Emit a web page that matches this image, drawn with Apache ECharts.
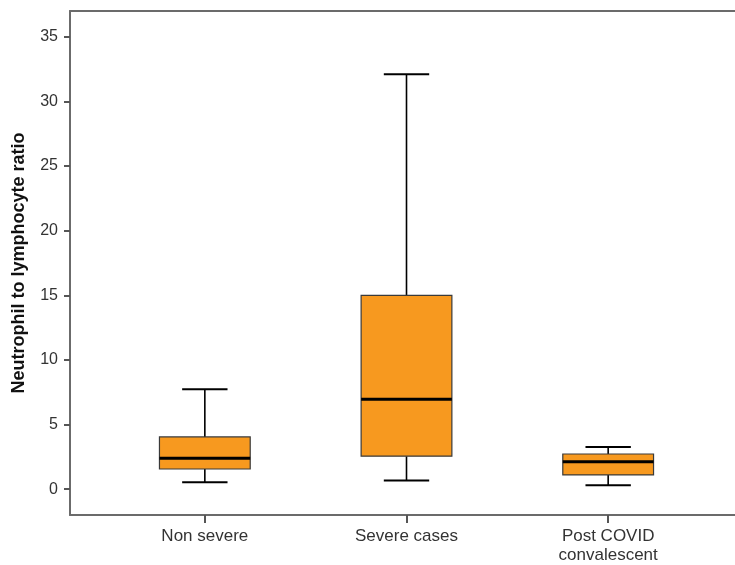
<!DOCTYPE html>
<html>
<head>
<meta charset="utf-8">
<script src="https://cdn.jsdelivr.net/npm/echarts@6/dist/echarts.min.js"></script>
<style>html,body{margin:0;padding:0;background:#fff}#c{width:735px;height:565px}</style>
</head>
<body>
<div id="c"></div>
<script>
const categories = ['Non severe', 'Severe cases', 'Post COVID\nconvalescent'];
const lowWhisker = [0.53, 0.66, 0.30];
const q1 = [1.56, 2.55, 1.10];
const median = [2.39, 6.96, 2.13];
const q3 = [4.04, 15.0, 2.72];
const highWhisker = [7.73, 32.1, 3.27];
const yTicks = [0, 5, 10, 15, 20, 25, 30, 35];
const yName = 'Neutrophil to lymphocyte ratio';

const data = categories.map((c, i) => [i, lowWhisker[i], q1[i], median[i], q3[i], highWhisker[i]]);

const chart = echarts.init(document.getElementById('c'), null, {renderer: 'canvas'});
const font = 'Arial, "Liberation Sans", sans-serif';
const frameLine = {show: true, onZero: false, lineStyle: {color: '#6b6b6b', width: 2}};

chart.setOption({
  animation: false,
  backgroundColor: '#fff',
  grid: [
    {left: 104, right: 26, top: 11, bottom: 50, outerBoundsMode: 'none', containLabel: false},
    {left: 70, right: -12, top: 11, bottom: 50, outerBoundsMode: 'none', containLabel: false, show: false}
  ],
  xAxis: [
    {
      type: 'category', gridIndex: 0, data: categories, boundaryGap: true,
      axisLine: {show: false, onZero: false},
      axisTick: {show: true, alignWithLabel: true, length: 8, lineStyle: {color: '#555', width: 2}},
      axisLabel: {fontFamily: font, fontSize: 17, color: '#333', margin: 12, lineHeight: 19, interval: 0},
      splitLine: {show: false}
    },
    {type: 'value', gridIndex: 1, position: 'bottom', min: 0, max: 1, axisLine: frameLine,
      axisTick: {show: false}, axisLabel: {show: false}, splitLine: {show: false}},
    {type: 'value', gridIndex: 1, position: 'top', min: 0, max: 1, axisLine: frameLine,
      axisTick: {show: false}, axisLabel: {show: false}, splitLine: {show: false}}
  ],
  yAxis: [
    {
      type: 'value', gridIndex: 0, min: -2, max: 37, offset: 34,
      axisLine: {show: false, onZero: false},
      axisTick: {show: true, length: 6, lineStyle: {color: '#555', width: 2}, customValues: yTicks},
      axisLabel: {fontFamily: font, fontSize: 16, color: '#333', margin: 12, customValues: yTicks},
      splitLine: {show: false},
      name: yName, nameLocation: 'middle', nameGap: 42,
      nameTextStyle: {fontFamily: font, fontSize: 18, fontWeight: 'bold', color: '#111'}
    },
    {type: 'value', gridIndex: 1, position: 'left', min: 0, max: 1, axisLine: frameLine,
      axisTick: {show: false}, axisLabel: {show: false}, splitLine: {show: false}}
  ],
  series: [{
    type: 'custom',
    xAxisIndex: 0, yAxisIndex: 0,
    data: data,
    encode: {x: 0, y: [1, 2, 3, 4, 5]},
    renderItem: function (params, api) {
      const x = api.value(0);
      const pLo = api.coord([x, api.value(1)]);
      const pQ1 = api.coord([x, api.value(2)]);
      const pMed = api.coord([x, api.value(3)]);
      const pQ3 = api.coord([x, api.value(4)]);
      const pHi = api.coord([x, api.value(5)]);
      const band = api.size([1, 0])[0];
      const bw = band * 0.45;
      const cw = bw / 2;
      const cx = pMed[0];
      const wStyle = {stroke: '#000', lineWidth: 1.6};
      const cStyle = {stroke: '#000', lineWidth: 2};
      return {
        type: 'group',
        children: [
          {type: 'line', shape: {x1: cx, y1: pQ3[1], x2: cx, y2: pHi[1]}, style: wStyle},
          {type: 'line', shape: {x1: cx, y1: pQ1[1], x2: cx, y2: pLo[1]}, style: wStyle},
          {type: 'line', shape: {x1: cx - cw / 2, y1: pHi[1], x2: cx + cw / 2, y2: pHi[1]}, style: cStyle},
          {type: 'line', shape: {x1: cx - cw / 2, y1: pLo[1], x2: cx + cw / 2, y2: pLo[1]}, style: cStyle},
          {type: 'rect', shape: {x: cx - bw / 2, y: pQ3[1], width: bw, height: pQ1[1] - pQ3[1]},
            style: {fill: '#f7991f', stroke: '#3a3a3a', lineWidth: 1.2}},
          {type: 'line', shape: {x1: cx - bw / 2, y1: pMed[1], x2: cx + bw / 2, y2: pMed[1]}, style: {stroke: '#000', lineWidth: 3}}
        ]
      };
    }
  }]
});
</script>
</body>
</html>
